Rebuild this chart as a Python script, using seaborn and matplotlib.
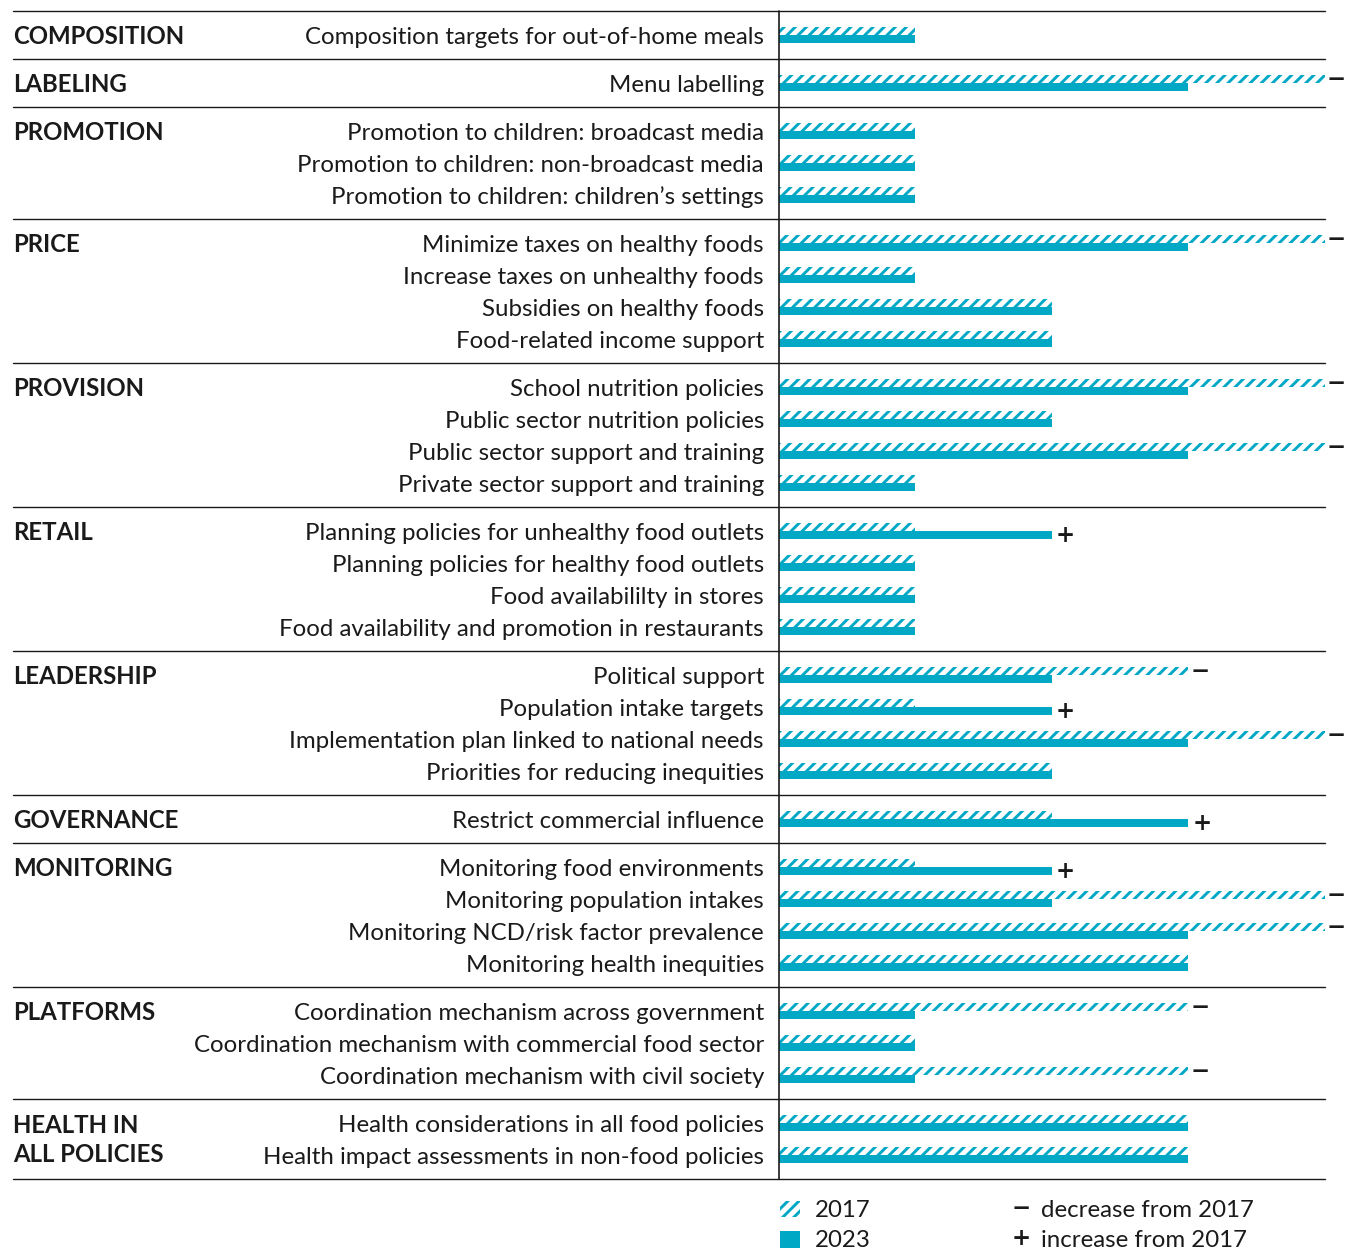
import numpy as np
import pandas as pd
import seaborn as sns
import matplotlib.pyplot as plt
from matplotlib.patches import Rectangle

# Policy groups and indicators (scores, 0-4 scale)
groups = ['COMPOSITION', 'LABELING', 'PROMOTION', 'PRICE', 'PROVISION', 'RETAIL',
          'LEADERSHIP', 'GOVERNANCE', 'MONITORING', 'PLATFORMS', 'HEALTH IN\nALL POLICIES']
group_sizes = [1, 1, 3, 4, 4, 4, 4, 1, 4, 3, 2]

indicators = [
    'Composition targets for out-of-home meals',
    'Menu labelling',
    'Promotion to children: broadcast media',
    'Promotion to children: non-broadcast media',
    'Promotion to children: children\u2019s settings',
    'Minimize taxes on healthy foods',
    'Increase taxes on unhealthy foods',
    'Subsidies on healthy foods',
    'Food-related income support',
    'School nutrition policies',
    'Public sector nutrition policies',
    'Public sector support and training',
    'Private sector support and training',
    'Planning policies for unhealthy food outlets',
    'Planning policies for healthy food outlets',
    'Food availabililty in stores',
    'Food availability and promotion in restaurants',
    'Political support',
    'Population intake targets',
    'Implementation plan linked to national needs',
    'Priorities for reducing inequities',
    'Restrict commercial influence',
    'Monitoring food environments',
    'Monitoring population intakes',
    'Monitoring NCD/risk factor prevalence',
    'Monitoring health inequities',
    'Coordination mechanism across government',
    'Coordination mechanism with commercial food sector',
    'Coordination mechanism with civil society',
    'Health considerations in all food policies',
    'Health impact assessments in non-food policies',
]
score_2017 = [1, 4, 1, 1, 1, 4, 1, 2, 2, 4, 2, 4, 1, 1, 1, 1, 1,
              3, 1, 4, 2, 2, 1, 4, 4, 3, 3, 1, 3, 3, 3]
score_2023 = [1, 3, 1, 1, 1, 3, 1, 2, 2, 3, 2, 3, 1, 2, 1, 1, 1,
              2, 2, 3, 2, 3, 2, 2, 3, 3, 1, 1, 1, 3, 3]

teal = '#00A8C6'
ink = '#1a1a1a'

sns.set_style('white')
plt.rcParams['font.family'] = ['Lato', 'DejaVu Sans']
plt.rcParams['hatch.linewidth'] = 2.1
plt.rcParams['hatch.color'] = teal

# row positions: one unit per row, half a unit extra between groups
group_idx = np.repeat(np.arange(len(groups)), group_sizes)
ypos = np.arange(len(indicators)) + 0.5 * group_idx

df = pd.DataFrame({'indicator': indicators, 'y': ypos,
                   's2017': score_2017, 's2023': score_2023})

fig = plt.figure(figsize=(13.45, 12.53), dpi=100)
ax = fig.add_axes([0, 0, 1, 1])

# 2017 bars (hatched, upper half of each row)
sns.barplot(x=df['s2017'], y=df['y'] - 0.125, orient='y', native_scale=True,
            width=0.25, color=teal, saturation=1, errorbar=None, ax=ax)
n17 = len(ax.patches)
for p in ax.patches[:n17]:
    p.set_facecolor('white')
    p.set_edgecolor(teal)
    p.set_linewidth(0)
    p.set_hatch('///')

# 2023 bars (solid, lower half)
sns.barplot(x=df['s2023'], y=df['y'] + 0.125, orient='y', native_scale=True,
            width=0.25, color=teal, saturation=1, errorbar=None, ax=ax)
for p in ax.patches[n17:]:
    p.set_linewidth(0)

ax.set_xlim(-5.707, 4.147)
ax.set_ylim(38.06, -1.094)
ax.axis('off')

fs = 17.3
mark_kw = dict(ha='center', va='center', fontsize=16.5, fontweight='bold',
               color=ink, family='DejaVu Sans')

# indicator labels and change marks
for _, r in df.iterrows():
    ax.text(-0.11, r['y'] + 0.27, r['indicator'], ha='right', va='baseline',
            fontsize=fs, color=ink)
    if r['s2023'] < r['s2017']:
        ax.text(r['s2017'] + 0.085, r['y'] - 0.125, '\u2212', **mark_kw)
    elif r['s2023'] > r['s2017']:
        ax.text(r['s2023'] + 0.1, r['y'] + 0.125, '+', **mark_kw)

# group labels and separator lines
starts = np.cumsum([0] + group_sizes[:-1])
for g, s, n in zip(groups, starts, group_sizes):
    y0 = ypos[s]
    if '\n' in g:
        ax.text(-5.61, y0 + 0.52, g, ha='left', va='center', fontsize=fs,
                fontweight='bold', color=ink, linespacing=1.32)
    else:
        ax.text(-5.61, y0 + 0.27, g, ha='left', va='baseline', fontsize=fs,
                fontweight='bold', color=ink)
    ax.plot([-5.61, 4], [y0 - 0.75, y0 - 0.75], color=ink, lw=1.0)
ax.plot([-5.61, 4], [ypos[-1] + 0.75] * 2, color=ink, lw=1.0)
ax.plot([0, 0], [ypos[0] - 0.75, ypos[-1] + 0.75], color=ink, lw=1.2)

# legend
ax.add_patch(Rectangle((0.007, 36.42), 0.147, 0.53, facecolor='white',
                       edgecolor=teal, hatch='///', linewidth=0))
ax.add_patch(Rectangle((0.007, 37.37), 0.147, 0.53, facecolor=teal, linewidth=0))
ax.text(0.264, 36.95, '2017', ha='left', va='baseline', fontsize=fs, color=ink)
ax.text(0.264, 37.88, '2023', ha='left', va='baseline', fontsize=fs, color=ink)
ax.text(1.773, 36.67, '\u2212', **mark_kw)
ax.text(1.773, 37.62, '+', **mark_kw)
ax.text(1.919, 36.95, 'decrease from 2017', ha='left', va='baseline', fontsize=fs, color=ink)
ax.text(1.919, 37.88, 'increase from 2017', ha='left', va='baseline', fontsize=fs, color=ink)

fig.savefig('out.png', dpi=100)
